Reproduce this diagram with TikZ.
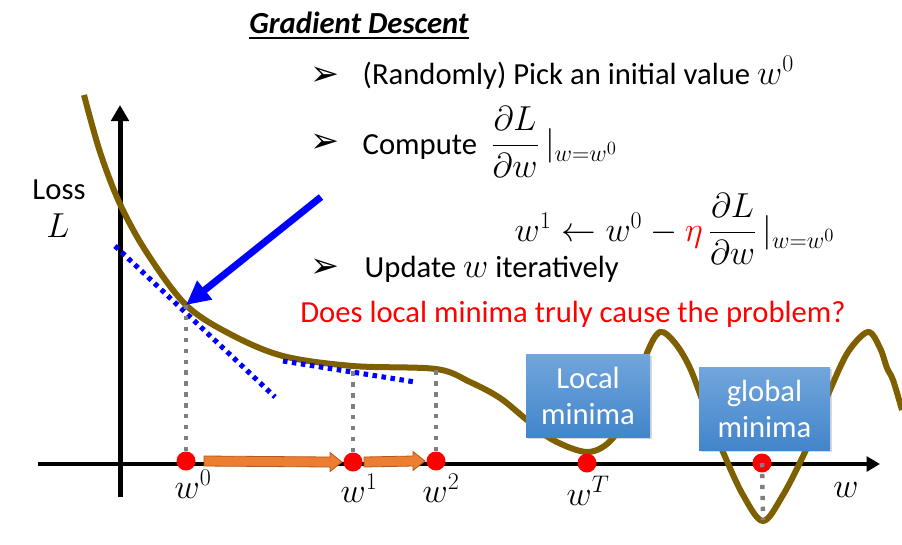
\RequirePackage{fix-cm}
\documentclass[tikz,border=0pt]{standalone}
\usepackage{amsmath}
\usepackage{fontspec}
\setmainfont{Carlito}
\newfontfamily\arrowfont{DejaVu Sans}
\usetikzlibrary{arrows.meta,calc,shadows}
\DeclareMathSizes{23}{26}{18}{14}

\definecolor{curvebrown}{RGB}{127,96,0}
\definecolor{boxtop}{RGB}{114,166,220}
\definecolor{boxbot}{RGB}{66,133,202}
\definecolor{orangefill}{RGB}{237,125,49}
\definecolor{orangeline}{RGB}{174,90,33}
\definecolor{dropgray}{RGB}{127,127,127}

\newcommand{\bul}{{\arrowfont\fontsize{26}{26}\selectfont ➢}}

\begin{document}
\begin{tikzpicture}[x=0.75pt,y=-0.75pt,font=\fontsize{23}{27}\selectfont,
  curve/.style={curvebrown,line width=4.5pt},
  tangent/.style={blue,line width=3.8pt,dash pattern=on 3.4pt off 3.4pt},
  dropline/.style={dropgray,line width=3.4pt,dash pattern=on 3.2pt off 5pt},
  dot/.style={circle,fill=red,inner sep=0pt,minimum size=14.25pt},
  minbox/.style={top color=boxtop,bottom color=boxbot,text=white,align=center,inner sep=0pt,
    drop shadow={shadow xshift=1.5pt,shadow yshift=-1.5pt,opacity=0.3}},
  blockarrow/.style={fill=orangefill,draw=orangeline,line width=0.6pt,
    to path={($(\tikztostart)+(#1,-5)$) -- ($(\tikztotarget)+(-23,-5)$) -- ($(\tikztotarget)+(-23,-9.5)$)
      -- ($(\tikztotarget)+(-11,0)$) -- ($(\tikztotarget)+(-23,9.5)$) -- ($(\tikztotarget)+(-23,5)$)
      -- ($(\tikztostart)+(#1,5)$) -- cycle}}]
\useasboundingbox (0,0) rectangle (902,544);

\coordinate (ybot) at (120,497); \coordinate (ytop) at (120,105);
\coordinate (xl) at (38,464); \coordinate (xr) at (880,464);
\draw[line width=3.75pt,-{Triangle[length=12pt,width=13pt]}] (ybot) -- (ytop);
\draw[line width=3pt,-{Triangle[length=10pt,width=11pt]}] (xl) -- (xr);

\draw[curve] plot[smooth,tension=0.55] coordinates {(84,95) (100,152) (120,204) (147,253) (186,305)
  (230,334) (283,356) (353,366) (436,369) (470,382) (500,398) (527,420) (553,440) (588,452) (613,438)
  (632,400) (647,353) (660,332) (675,343) (690,368) (706,410) (723,452) (743,495) (763,521) (783,495)
  (805,452) (818,420) (830,390) (848,352) (868,332) (880,348) (887,368) (893,380) (902,410)};

\coordinate (t1a) at (115,246); \coordinate (t1b) at (275,397);
\coordinate (t2a) at (283,361); \coordinate (t2b) at (415,382);
\draw[tangent] (t1a) -- (t1b);
\draw[tangent] (t2a) -- (t2b);

\node[dot] (w0) at (186,461) {};
\node[dot] (w1) at (353,462) {};
\node[dot] (w2) at (436,461) {};
\node[dot] (wT) at (587,463) {};
\node[dot] (wG) at (762,463) {};

\coordinate (c0) at (186,305); \coordinate (c1) at (353,365);
\coordinate (c2) at (436,369); \coordinate (cG) at (763,520);
\draw[dropline] (w0.north) -- (c0);
\draw[dropline] (w1.north) -- (c1);
\draw[dropline] (w2.north) -- (c2);
\draw[dropline] (wG.center) -- (cG);

\draw[blockarrow=18] (w0) to (w1);
\draw[blockarrow=11] (w1) to (w2);

\coordinate (a0) at (321,197);
\draw[blue,line width=5.25pt,-{Triangle[length=18pt,width=17pt]}] (a0) -- (c0);

\node[minbox,minimum width=93pt,minimum height=62.25pt] (local) at (588,395.5) {Local\\minima};
\node[minbox,minimum width=98.25pt,minimum height=62.25pt] (global) at (764.5,408.5) {global\\minima};

\node[anchor=base] (l0) at (193,498) {$w^0$};
\node[anchor=base] (l1) at (359,502) {$w^1$};
\node[anchor=base] (l2) at (441,502) {$w^2$};
\node[anchor=base] (lT) at (588,505) {$w^T$};
\node[anchor=base] (lw) at (846,497) {$w$};
\node[anchor=base] (loss) at (59,199) {Loss};
\node[anchor=base] (lossL) at (58,237) {$L$};

\node[anchor=base,font=\fontsize{23}{27}\selectfont\bfseries\itshape] (title) at (359,33) {\underline{Gradient Descent}};
\node (b1) at (325,76) {\bul};
\node[anchor=base west] (s1) at (358,84) {(Randomly) Pick an initial value $w^0$};
\node (b2) at (325,143) {\bul};
\node[anchor=base west] (s2) at (358,154) {Compute~~$\dfrac{\partial L}{\partial w}\,|_{w=w^0}$};
\node[anchor=base west] (upd) at (510,241) {$w^1 \leftarrow w^0 - {\color{red}\eta}\,\dfrac{\partial L}{\partial w}\,|_{w=w^0}$};
\node (b3) at (325,268) {\bul};
\node[anchor=base west] (s3) at (360,277) {Update $w$ iteratively};
\node[anchor=base,red] (q) at (573,322) {Does local minima truly cause the problem?};
\end{tikzpicture}
\end{document}
